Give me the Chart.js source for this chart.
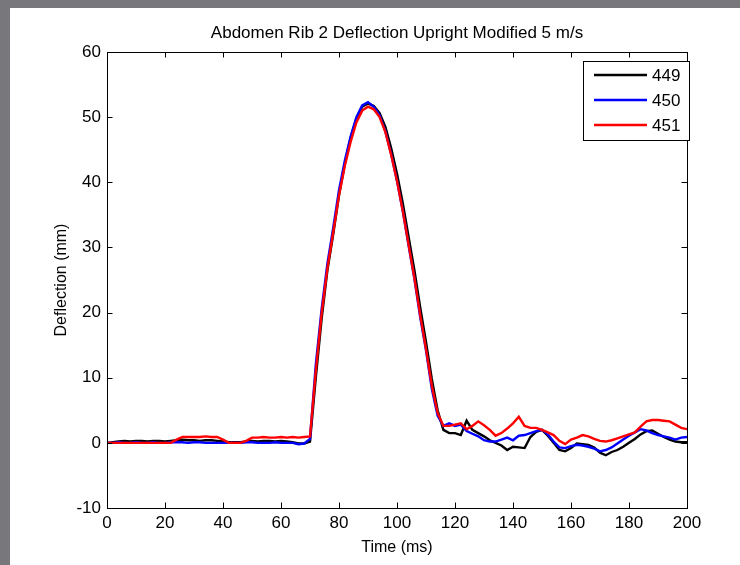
<!DOCTYPE html>
<html>
<head>
<meta charset="utf-8">
<script src="https://cdn.jsdelivr.net/npm/chart.js@4/dist/chart.umd.min.js"></script>
<style>
  html, body { margin: 0; padding: 0; }
  body { width: 740px; height: 565px; background: #78777b; position: relative; overflow: hidden; }
  #panel { position: absolute; left: 10px; top: 8px; width: 730px; height: 557px; background: #ffffff; }
  #c { display: block; }
</style>
</head>
<body>
<div id="panel"><canvas id="c" width="730" height="557"></canvas></div>
<script>
const chartTitle = 'Abdomen Rib 2 Deflection Upright Modified 5 m/s';
const xTitle = 'Time (ms)';
const yTitle = 'Deflection (mm)';
const seriesNames = ['449', '450', '451'];
const seriesColors = ['#000000', '#0000ff', '#ff0000'];
const xTicks = [0, 20, 40, 60, 80, 100, 120, 140, 160, 180, 200];
const yTicks = [-10, 0, 10, 20, 30, 40, 50, 60];

const timeMs = [0,2,4,6,8,10,12,14,16,18,20,22,24,26,28,30,32,34,36,38,40,42,44,46,48,50,52,54,56,58,60,62,64,66,68,70,72,74,76,78,80,82,84,86,88,90,92,94,96,98,100,102,104,106,108,110,112,114,116,118,120,122,124,126,128,130,132,134,136,138,140,142,144,146,148,150,152,154,156,158,160,162,164,166,168,170,172,174,176,178,180,182,184,186,188,190,192,194,196,198,200];

const s449 = [0,0.1,0.2,0.3,0.2,0.3,0.3,0.2,0.3,0.3,0.2,0.3,0.4,0.5,0.4,0.4,0.3,0.4,0.4,0.3,0.2,0.1,0.1,0.1,0.2,0.3,0.2,0.3,0.3,0.2,0.3,0.2,0.1,-0.1,-0.1,
  0.2,10,19,26.5,32,38,42.8,46.8,49.8,51.6,52.1,51.7,50.6,48.5,45.2,41.3,36.8,31.6,26.5,20.8,15.5,9.8,5.0,2.0,
  1.5,1.5,1.2,3.4,2.0,1.5,1.0,0.4,0.0,-0.4,-1.1,-0.6,-0.7,-0.8,0.9,1.7,2.0,1.1,0.0,-1.1,-1.3,-0.8,-0.1,-0.2,-0.3,-0.7,-1.5,-1.9,-1.4,-1.1,-0.6,0.0,0.6,1.3,1.8,1.9,1.4,0.9,0.5,0.2,0.1,0.1];

const s450 = [0,0,0.1,0,0,0.1,0,0,0.1,0,0,0.1,0.1,0.1,0,0.1,0.1,0,0,0,0,0,0,0,0.1,0.1,0,0,0,0.1,0,0,0,-0.2,-0.1,
  0.6,12,20.5,27.5,33,38.8,43.3,47,50,51.8,52.3,51.6,50.3,47.8,44.3,40.2,35.6,30.3,25.2,19.3,14.2,8.3,4.2,2.6,
  3.0,2.6,2.8,1.8,1.4,1.0,0.4,0.2,0.2,0.5,0.8,0.4,1.1,1.2,1.5,1.8,2.0,1.3,0.2,-0.7,-0.8,-0.5,-0.3,-0.4,-0.6,-0.9,-1.3,-1.1,-0.7,-0.1,0.5,1.1,1.6,2.1,1.9,1.5,1.2,1.0,0.8,0.5,0.8,0.9];

const s451 = [0,0,0,0,0,0,0,0,0,0,0,0,0.5,0.9,0.9,0.9,0.9,1.0,0.9,0.9,0.5,0,0,0,0.3,0.8,0.8,0.9,0.8,0.8,0.9,0.8,0.9,0.8,0.9,
  1.0,11,19.8,26.8,32.3,38,42.5,46.2,49.2,51,51.6,51.2,50.0,47.7,44.2,40.2,35.6,30.4,25.3,19.6,14.4,8.8,4.6,2.6,
  2.6,2.8,3.0,2.1,2.6,3.3,2.7,2.0,1.1,1.5,2.2,3.0,4.0,2.6,2.3,2.3,2.0,1.6,1.2,0.3,-0.2,0.5,0.8,1.2,1.0,0.6,0.3,0.2,0.4,0.7,1.0,1.3,1.6,2.5,3.3,3.5,3.5,3.4,3.3,2.8,2.3,2.1];

const FONT = 'Liberation Sans, Arial, Helvetica, sans-serif';
const FS = 17;

function pts(vals) { return timeMs.map((t, i) => ({ x: t, y: vals[i] })); }

const allSeries = [s449, s450, s451];
const datasets = allSeries.map((vals, i) => ({
  label: seriesNames[i],
  data: pts(vals),
  borderColor: seriesColors[i],
  backgroundColor: seriesColors[i],
  borderWidth: 2.4,
  pointRadius: 0,
  tension: 0,
  fill: false,
  order: 3 - i
}));

const frame = {
  id: 'matlabFrame',
  afterDatasetsDraw(chart) {
    const ctx = chart.ctx;
    const a = chart.chartArea;
    const xs = chart.scales.x, ys = chart.scales.y;
    ctx.save();
    ctx.strokeStyle = '#000';
    ctx.lineWidth = 1;
    ctx.strokeRect(Math.round(a.left) + 0.5, Math.round(a.top) + 0.5, Math.round(a.right - a.left), Math.round(a.bottom - a.top));
    const tl = 5.5;
    ctx.beginPath();
    xs.ticks.forEach(t => {
      const px = Math.round(xs.getPixelForValue(t.value)) + 0.5;
      ctx.moveTo(px, a.bottom); ctx.lineTo(px, a.bottom - tl);
      ctx.moveTo(px, a.top); ctx.lineTo(px, a.top + tl);
    });
    ys.ticks.forEach(t => {
      const py = Math.round(ys.getPixelForValue(t.value)) + 0.5;
      ctx.moveTo(a.left, py); ctx.lineTo(a.left + tl, py);
      ctx.moveTo(a.right, py); ctx.lineTo(a.right - tl, py);
    });
    ctx.stroke();

    // legend
    const bx = a.right - 104, by = a.top + 9, bw = 106, bh = 79;
    ctx.fillStyle = '#fff';
    ctx.fillRect(bx, by, bw, bh);
    ctx.strokeRect(bx + 0.5, by + 0.5, bw, bh);
    ctx.font = FS + 'px ' + FONT;
    ctx.textBaseline = 'middle';
    ctx.textAlign = 'left';
    chart.data.datasets.forEach((ds, i) => {
      const ly = by + 14 + i * 25;
      ctx.strokeStyle = ds.borderColor;
      ctx.lineWidth = 2.4;
      ctx.beginPath();
      ctx.moveTo(bx + 11, ly); ctx.lineTo(bx + 64, ly);
      ctx.stroke();
      ctx.fillStyle = '#000';
      ctx.fillText(ds.label, bx + 69, ly + 1);
    });
    ctx.restore();
  }
};

new Chart(document.getElementById('c'), {
  type: 'line',
  data: { datasets },
  plugins: [frame],
  options: {
    responsive: false,
    animation: false,
    events: [],
    layout: { padding: { left: 0, right: 53, top: 0, bottom: 0 } },
    plugins: {
      legend: { display: false },
      tooltip: { enabled: false },
      title: {
        display: true,
        text: chartTitle,
        fullSize: false,
        color: '#000',
        font: { family: FONT, size: FS, weight: 'normal' },
        padding: { top: 15, bottom: 8.6 }
      }
    },
    scales: {
      x: {
        type: 'linear',
        min: 0, max: 200,
        afterFit(s) { s.height = 57; },
        afterBuildTicks(s) { s.ticks = xTicks.map(v => ({ value: v })); },
        grid: { display: false, drawTicks: false },
        border: { display: false },
        ticks: { color: '#000', font: { family: FONT, size: FS }, padding: 5, maxRotation: 0, autoSkip: false },
        title: { display: true, text: xTitle, color: '#000', font: { family: FONT, size: 16 }, padding: { top: 0, bottom: 7.4 } }
      },
      y: {
        type: 'linear',
        min: -10, max: 60,
        afterFit(s) { s.width = 97; },
        afterBuildTicks(s) { s.ticks = yTicks.map(v => ({ value: v })); },
        grid: { display: false, drawTicks: false },
        border: { display: false },
        ticks: { color: '#000', font: { family: FONT, size: FS }, padding: 6, autoSkip: false },
        title: { display: true, text: yTitle, color: '#000', font: { family: FONT, size: 16 }, padding: { top: 42.4, bottom: 0 } }
      }
    }
  }
});
</script>
</body>
</html>
